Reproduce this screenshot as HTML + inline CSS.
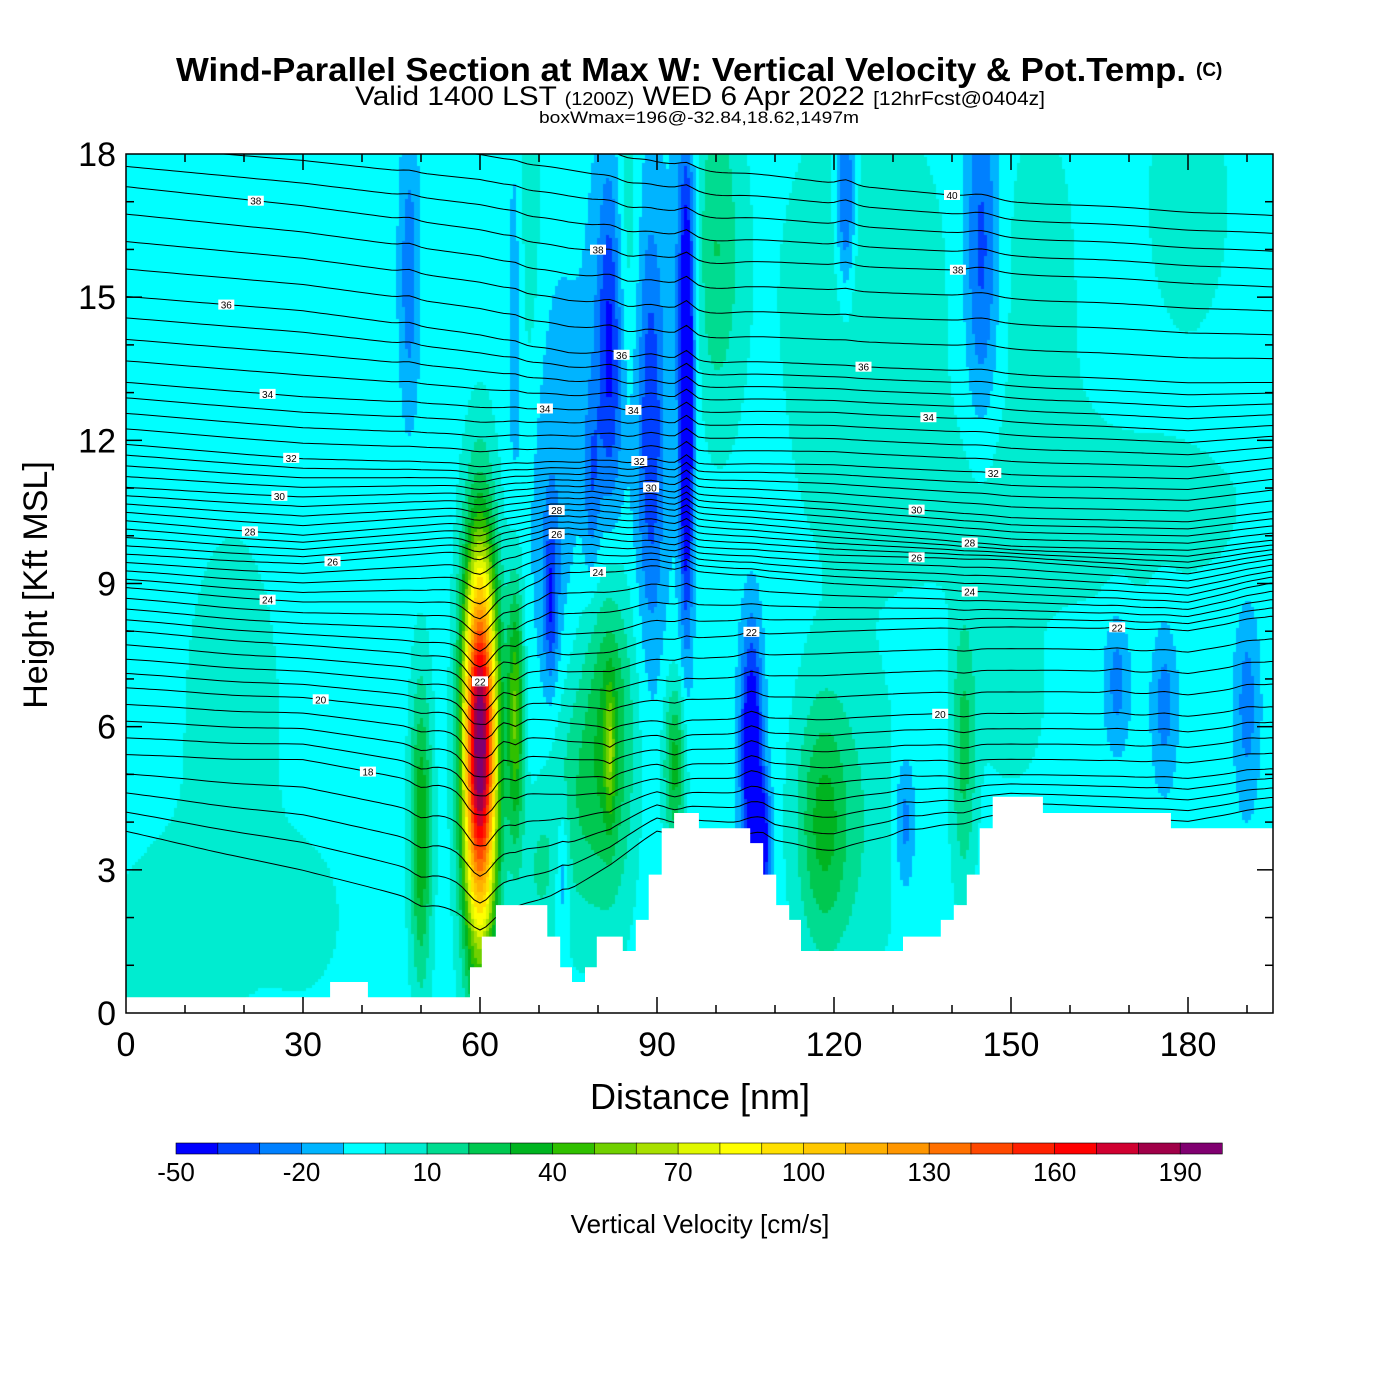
<!DOCTYPE html>
<html><head><meta charset="utf-8">
<style>
body{margin:0;background:#fff;}
#wrap{position:relative;width:1400px;height:1400px;overflow:hidden;background:#fff;font-family:"Liberation Sans",Arial,sans-serif;}
canvas{position:absolute;left:126px;top:154px;}
svg{position:absolute;left:0;top:0;}
</style></head>
<body>
<div id="wrap">
<canvas id="field" width="1147" height="859"></canvas>
<svg id="svg" width="1400" height="1400">
<text x="176" y="81" textLength="1010" lengthAdjust="spacingAndGlyphs" font-size="33" font-weight="bold">Wind-Parallel Section at Max W: Vertical Velocity &amp; Pot.Temp.</text>
<text x="1196" y="76" font-size="19" font-weight="bold">(C)</text>
<text x="355" y="105" textLength="690" lengthAdjust="spacingAndGlyphs" font-size="27">Valid 1400 LST <tspan font-size="18">(1200Z)</tspan> WED 6 Apr 2022 <tspan font-size="19">[12hrFcst@0404z]</tspan></text>
<text x="539" y="123" textLength="320" lengthAdjust="spacingAndGlyphs" font-size="17">boxWmax=196@-32.84,18.62,1497m</text>
<text x="700" y="1109" text-anchor="middle" font-size="36">Distance [nm]</text>
<text transform="translate(47,585) rotate(-90)" text-anchor="middle" font-size="34">Height [Kft MSL]</text>
<text x="700" y="1233" text-anchor="middle" font-size="26">Vertical Velocity [cm/s]</text>
<defs><clipPath id="plotclip"><rect x="126" y="154" width="1147" height="859"/></clipPath></defs>
<g id="contours" clip-path="url(#plotclip)"></g>
<g id="terrain" clip-path="url(#plotclip)"></g>
<g id="labels" clip-path="url(#plotclip)"></g>
<g id="axes"></g>
<g id="cbar"></g>
</svg>
</div>
<script>
// ---- data ----
const binColors = ["#0000ff","#0040ff","#0080ff","#00b4ff","#00ffff","#00ecd0","#00dc90","#00c850","#00b420","#30c000","#70d000","#a8e000","#e0f800","#ffff00","#ffe000","#ffc800","#ffb000","#ff9600","#ff7000","#ff4800","#ff2000","#ff0000","#d00030","#a00048","#800070"];
const cbarTickValues = [-50,-20,10,40,70,100,130,160,190];
const xTickValues = [0,30,60,90,120,150,180];
const yTickValues = [0,3,6,9,12,15,18];
const baseW = -5;
// blobs: center distance (nm), center height (kft), width nm, width kft, amplitude cm/s
const blobX =  [18, 8, 30, 125,100,160,155,180,118,123,142,150, 68, 85, 60, 50, 66, 82, 82, 76, 93, 70,106,108, 95, 95, 72, 74, 82, 89, 79, 48,122,145,132,168,176,190, 66, 85, 72];
const blobH =  [ 6,1.5, 2, 15, 16,10.5,15, 17,  4,  4,5.5,6.5, 16, 16,5.6,3.8,6.3,  6,5.5,4.5,5.2,  3,5.5,3.5,12.5,16,8.6,  3, 14, 12, 11,15.5, 17, 16,  4,  7,6.5,6.5, 15, 13, 11];
const blobSX = [ 6, 8,  5, 10,  3, 25,  5,  5,  3,  6,1.5,  4,  2,1.5,  2,1.3,  1,  3,0.6,  3,1.3,  2,1.3,  1,0.8,1.5,0.9,0.8,1.5,1.5,  1,1.2,1.2,  2,1.2,1.5,1.5,1.5,  1,  6,  3];
const blobSH = [ 3,1.5,1.2,  3,2.5,1.5,  3,  2,1.8,2.5,  2,1.2,  3,  3,2.8,2.2,  2,2.6,  1,  2,1.2,1.2,1.8,  1,  3,2.5,1.2,  1,2.5,  3,1.5,  2,1.5,2.5,  1,  1,1.2,1.5,  3,  4,  3];
const blobAmp= [12,12, 10, 14, 25, 10, 10, 12, 30, 14, 28, 12, 12, 18,210, 45, 55, 40, 30, 20, 40, 15,-55,-40,-60,-20,-30,-20,-30,-25,-20,-22,-35,-30,-22,-20,-20,-20,-15,-12,-12];
// terrain steps
const terrainStart = [0,34.6,41,58.3,60.3,62.7,71.4,73.6,75.6,77.8,79.8,84.2,86.4,88.6,90.8,92.9,97.1,105.8,108,110.2,112.4,114.4,131.7,138.1,140.3,142.5,144.7,146.9,155.4,177.1];
const terrainHeight= [0.33,0.65,0.33,0.96,1.6,2.26,1.6,0.96,0.65,0.96,1.6,1.3,1.95,2.9,3.87,4.19,3.87,3.56,2.9,2.26,1.95,1.3,1.6,1.95,2.26,2.9,3.87,4.53,4.19,3.87];
// potential temperature contour heights (kft) at control distances
const thetaCtrlX = [0,30,60,75,90,120,150,180,194];
const thetaLevels = [16,18,20,22,24,26,28,30,32,34,36,38,40];
const theta16 = [3.8,3.0,2.0,2.6,3.8,3.5,4.2,4.0,4.3];
const theta18 = [5.4,5.3,4.6,4.6,4.9,4.9,5.0,4.9,5.1];
const theta20 = [6.8,6.6,6.2,6.1,6.1,6.2,6.3,6.2,6.4];
const theta22 = [8.0,7.7,7.4,7.5,7.8,8.0,8.1,8.0,8.3];
const theta24 = [8.9,8.6,8.6,9.2,9.3,9.0,8.8,8.6,9.0];
const theta26 = [9.6,9.4,9.7,10.0,9.8,9.6,9.5,9.2,9.5];
const theta28 = [10.3,10.0,10.3,10.5,10.4,10.1,9.8,9.7,9.9];
const theta30 = [11.0,10.8,10.9,11.0,10.9,10.7,10.4,10.3,10.5];
const theta32 = [11.9,11.6,11.5,11.5,11.5,11.5,11.3,11.2,11.4];
const theta34 = [13.2,12.9,12.7,12.6,12.6,12.6,12.4,12.2,12.3];
const theta36 = [15.0,14.7,14.2,13.8,13.7,13.6,13.4,13.2,13.2];
const theta38 = [17.3,16.9,16.4,16.0,15.8,15.7,15.5,15.3,15.2];
const theta40 = [19.0,18.8,18.5,18.2,17.8,17.4,17.0,16.8,16.7];
const thetaTable = [theta16,theta18,theta20,theta22,theta24,theta26,theta28,theta30,theta32,theta34,theta36,theta38,theta40];
// contour labels: level, distance
const labelLevel = [38,36,34,32,30,28,26,24,20,18,22,38,36,34,34,32,30,28,26,24,40,38,36,34,32,30,28,26,24,22,20,22];
const labelDist  = [22,17,24,28,26,21,35,24,33,41,60,80,84,71,86,87,89,73,73,80,140,141,125,136,147,134,143,134,143,106,138,168];

// ---- scales ----
const X0=126, PX_PER_NM=5.9, Y0=1013, PX_PER_KFT=859/18;
const xs = d => X0 + d*PX_PER_NM;
const ys = h => Y0 - h*PX_PER_KFT;
const NS="http://www.w3.org/2000/svg";

function w(d,h){
  let v=baseW;
  for(let i=0;i<blobX.length;i++){
    const a=(d-blobX[i])/blobSX[i], b=(h-blobH[i])/blobSH[i];
    v+=blobAmp[i]*Math.exp(-0.5*(a*a+b*b));
  }
  return v;
}
function colorFor(v){
  let k=Math.floor((v+50)/10); if(k<0)k=0; if(k>24)k=24; return binColors[k];
}
// field
const ctx=document.getElementById('field').getContext('2d');
for(let px=0;px<1147;px+=3){
  for(let py=0;py<859;py+=3){
    const d=(px+1.5)/PX_PER_NM, h=(859-py-1.5)/PX_PER_KFT;
    ctx.fillStyle=colorFor(w(d,h));
    ctx.fillRect(px,py,3,3);
  }
}
// contours
function lerpCtrl(arr,d){
  for(let i=0;i<thetaCtrlX.length-1;i++){
    if(d<=thetaCtrlX[i+1]){const t=(d-thetaCtrlX[i])/(thetaCtrlX[i+1]-thetaCtrlX[i]);return arr[i]+t*(arr[i+1]-arr[i]);}
  }
  return arr[arr.length-1];
}
function levelHeight(lev,d){
  const f=(lev-thetaLevels[0])/2; let i=Math.floor(f); if(i>=thetaTable.length-1)i=thetaTable.length-2; const t=f-i;
  let h0=lerpCtrl(thetaTable[i],d)*(1-t)+lerpCtrl(thetaTable[i+1],d)*t;
  let dh=-0.003*w(d,h0); if(dh<-0.45)dh=-0.45; if(dh>0.2)dh=0.2;
  return h0+dh;
}
const cg=document.getElementById('contours');
for(let lev=16;lev<=40;lev+=0.5){
  let pts=[];
  for(let d=0;d<=195;d+=1){pts.push(xs(d).toFixed(1)+','+ys(levelHeight(lev,d)).toFixed(1));}
  const pl=document.createElementNS(NS,'polyline');
  pl.setAttribute('points',pts.join(' '));
  pl.setAttribute('fill','none');pl.setAttribute('stroke','#000');pl.setAttribute('stroke-width','1');
  
  
  cg.appendChild(pl);
}
// terrain
const tg=document.getElementById('terrain');
let tp='M'+xs(0)+','+ys(0);
for(let i=0;i<terrainStart.length;i++){
  const x1=xs(terrainStart[i]), x2=xs(i+1<terrainStart.length?terrainStart[i+1]:200);
  tp+=' L'+x1.toFixed(1)+','+ys(terrainHeight[i]).toFixed(1)+' L'+x2.toFixed(1)+','+ys(terrainHeight[i]).toFixed(1);
}
tp+=' L'+xs(200)+','+ys(0)+' Z';
const tpath=document.createElementNS(NS,'path');
tpath.setAttribute('d',tp);tpath.setAttribute('fill','#fff');


tg.appendChild(tpath);
// labels
const lg=document.getElementById('labels');
for(let i=0;i<labelLevel.length;i++){
  const x=xs(labelDist[i]), y=ys(levelHeight(labelLevel[i],labelDist[i]));
  const r=document.createElementNS(NS,'rect');
  r.setAttribute('x',x-8);r.setAttribute('y',y-5);r.setAttribute('width',16);r.setAttribute('height',10);r.setAttribute('fill','#fff');
  
  
  lg.appendChild(r);
  const t=document.createElementNS(NS,'text');
  t.setAttribute('x',x);t.setAttribute('y',y+4);t.setAttribute('text-anchor','middle');t.setAttribute('font-size','10');
  t.textContent=labelLevel[i];
  
  
  lg.appendChild(t);
}
// axes
const ag=document.getElementById('axes');
function line(x1,y1,x2,y2,name,sw){
  const l=document.createElementNS(NS,'line');
  l.setAttribute('x1',x1);l.setAttribute('y1',y1);l.setAttribute('x2',x2);l.setAttribute('y2',y2);
  l.setAttribute('stroke','#000');l.setAttribute('stroke-width',sw||1.5);
  
  
  ag.appendChild(l);
}
function txt(x,y,s,size,name,anchor){
  const t=document.createElementNS(NS,'text');
  t.setAttribute('x',x);t.setAttribute('y',y);t.setAttribute('font-size',size);t.setAttribute('text-anchor',anchor||'middle');
  t.textContent=s;
  
  
  return t;
}
const frame=document.createElementNS(NS,'rect');
frame.setAttribute('x',126);frame.setAttribute('y',154);frame.setAttribute('width',1147);frame.setAttribute('height',859);
frame.setAttribute('fill','none');frame.setAttribute('stroke','#000');frame.setAttribute('stroke-width','1.5');


ag.appendChild(frame);
for(let d=10;d<=190;d+=10){
  const major=d%30===0, L=major?16:8;
  line(xs(d),Y0,xs(d),Y0-L,'x-tick');
  line(xs(d),154,xs(d),154+L,'x-tick-top');
}
for(const v of xTickValues){ag.appendChild(txt(xs(v),1056,String(v),34,'x-tick-label'));}
for(let h=1;h<18;h+=1){
  const major=h%3===0, L=major?16:8;
  line(X0,ys(h),X0+L,ys(h),'y-tick');
  line(1273,ys(h),1273-L,ys(h),'y-tick-right');
}
for(const v of yTickValues){ag.appendChild(txt(116,ys(v)+12,String(v),34,'y-tick-label','end'));}
// colorbar
const cb=document.getElementById('cbar');
const CBX=176, CBW=(1222-176)/25, CBY=1143, CBH=11;
for(let i=0;i<binColors.length;i++){
  const r=document.createElementNS(NS,'rect');
  r.setAttribute('x',CBX+i*CBW);r.setAttribute('y',CBY);r.setAttribute('width',CBW+0.3);r.setAttribute('height',CBH);
  r.setAttribute('fill',binColors[i]);r.setAttribute('stroke','#000');r.setAttribute('stroke-width','0.6');
  
  
  cb.appendChild(r);
}
for(const v of cbarTickValues){
  cb.appendChild(txt(CBX+(v+50)/10*CBW,1181,String(v),26,'colorbar-tick-label'));
}
</script>
</body></html>
